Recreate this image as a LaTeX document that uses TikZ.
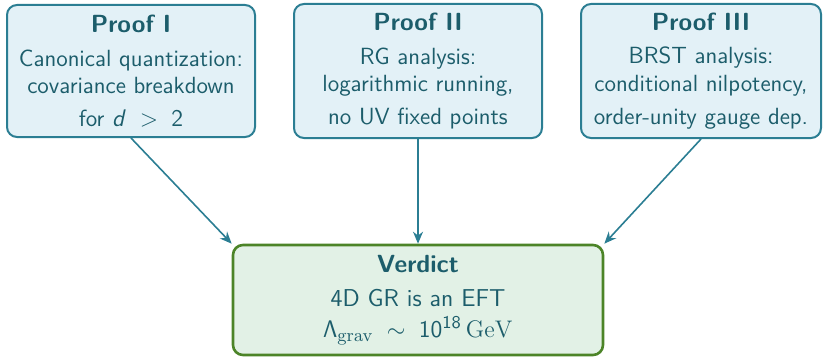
\documentclass[tikz,border=0pt]{standalone}
\usetikzlibrary{arrows.meta}
\DeclareMathAlphabet{\mathsfx}{OT1}{cmss}{m}{n}
\DeclareMathAlphabet{\mathsfit}{OT1}{cmss}{m}{sl}
\definecolor{tealtext}{HTML}{1C5D6B}
\definecolor{tealline}{HTML}{2B7E93}
\definecolor{tealfill}{HTML}{E3F1F7}
\definecolor{greenline}{HTML}{4C8428}
\definecolor{greenfill}{HTML}{E2F1E6}
\newcommand{\boxtitle}[1]{{\fontsize{12.4}{14}\selectfont\bfseries #1}}
\tikzset{
  proofbox/.style={draw=tealline, fill=tealfill, line width=1pt, rounded corners=5pt,
    align=center, text=tealtext, inner sep=0pt, font=\sffamily\fontsize{11.7}{13.9}\selectfont},
  verdictbox/.style={draw=greenline, fill=greenfill, line width=1.3pt, rounded corners=5pt,
    align=center, text=tealtext, inner sep=0pt, font=\sffamily\fontsize{12.2}{14.2}\selectfont},
  arr/.style={draw=tealline, line width=0.8pt, -{Stealth[length=6pt,width=5pt]}}
}
\begin{document}
\begin{tikzpicture}[x=0.5pt,y=-0.5pt]
\useasboundingbox (0,0) rectangle (823,358);
\node[proofbox, minimum width=124pt, minimum height=66pt] (p1) at (131,71)
  {\boxtitle{Proof I}\\[3pt] Canonical quantization:\\ covariance breakdown\\[2.5pt] for $\mathsfit{d}\;>\;\mathsfx{2}$};
\node[proofbox, minimum width=124pt, minimum height=67pt] (p2) at (418,71)
  {\boxtitle{Proof II}\\[3pt] RG analysis:\\ logarithmic running,\\[2.5pt] no UV fixed points};
\node[proofbox, minimum width=120pt, minimum height=67pt] (p3) at (701,71)
  {\boxtitle{Proof III}\\[3pt] BRST analysis:\\ conditional nilpotency,\\[2.5pt] order-unity gauge dep.};
\node[verdictbox, minimum width=185pt, minimum height=55pt] (v) at (418,300)
  {\boxtitle{Verdict}\\[3pt] 4D GR is an EFT\\[1.5pt] $\mathsfx{\Lambda}_{\mathrm{grav}}\;\sim\;\mathsfx{10}^{\mathsfx{18}}\,\mathrm{GeV}$};
\draw[arr] (p1.south) -- (v.north west);
\draw[arr] (p2.south) -- (v.north);
\draw[arr] (p3.south) -- (v.north east);
\end{tikzpicture}
\end{document}
